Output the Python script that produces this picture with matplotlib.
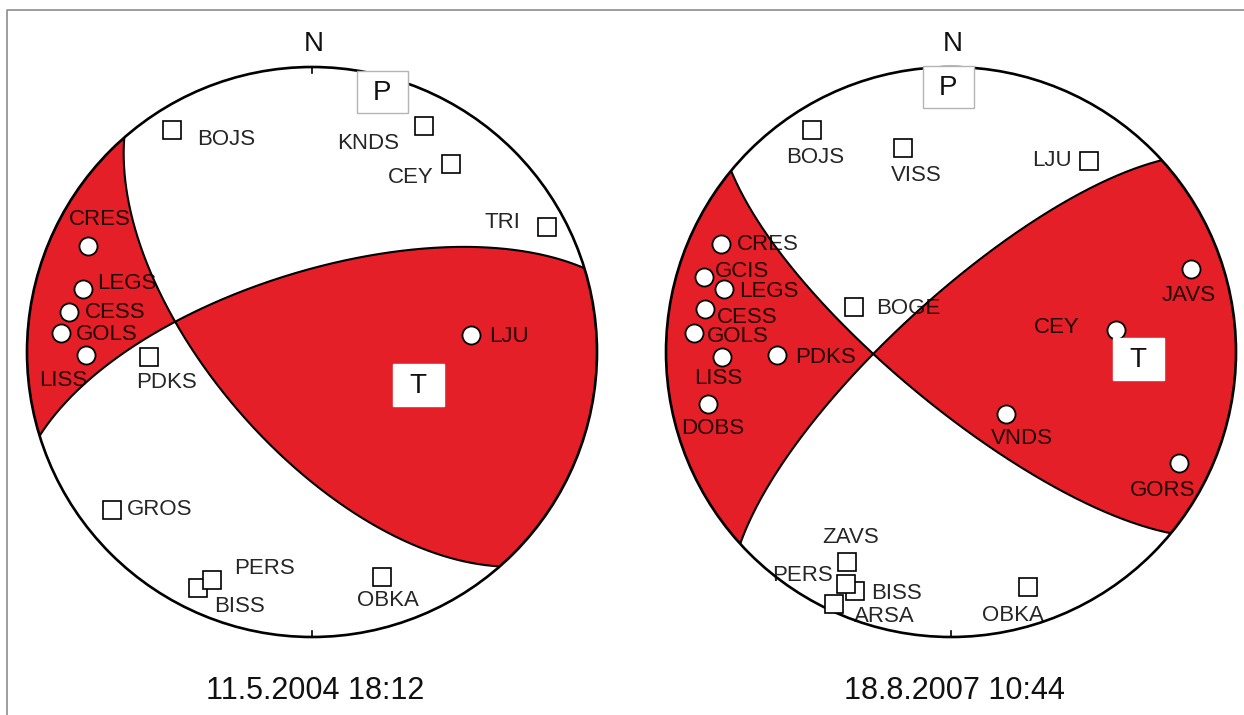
import numpy as np
import matplotlib
matplotlib.use("Agg")
import matplotlib.pyplot as plt
from matplotlib.patches import Circle, Rectangle

# ---------------------------------------------------------------------------
# Focal mechanism data (lower-hemisphere, equal-area projection)
# Station positions: azimuth (deg from N) and projected radius (0..1)
# ---------------------------------------------------------------------------

# Event 1
ev1_date = "11.5.2004 18:12"
ev1_strikes = [138.8, 252.9]
ev1_dips = [63.0, 67.0]
ev1_comp_names = ["CRES", "LEGS", "CESS", "GOLS", "LISS", "LJU"]
ev1_comp_az = [295.3, 285.4, 279.3, 274.3, 269.2, 83.9]
ev1_comp_r = [0.870, 0.833, 0.864, 0.883, 0.793, 0.561]
ev1_dil_names = ["BOJS", "KNDS", "CEY", "TRI", "PDKS", "GROS", "BISS", "PERS", "OBKA"]
ev1_dil_az = [327.8, 26.4, 36.5, 62.0, 268.2, 231.7, 205.8, 203.7, 162.7]
ev1_dil_r = [0.921, 0.885, 0.820, 0.934, 0.572, 0.894, 0.920, 0.874, 0.827]
ev1_p_axis = (15.1, 0.945)
ev1_t_axis = (107.3, 0.390)

# Event 2
ev2_date = "18.8.2007 10:44"
ev2_strikes = [129.5, 227.7]
ev2_dips = [75.0, 75.0]
ev2_comp_names = ["CRES", "GCIS", "LEGS", "CESS", "GOLS", "LISS", "PDKS", "DOBS",
                  "JAVS", "CEY", "VNDS", "GORS"]
ev2_comp_az = [295.2, 286.9, 285.5, 279.9, 274.2, 268.7, 269.0, 257.9,
               70.9, 82.4, 138.4, 116.0]
ev2_comp_r = [0.892, 0.906, 0.827, 0.876, 0.904, 0.804, 0.611, 0.872,
              0.891, 0.584, 0.291, 0.890]
ev2_dil_names = ["BOJS", "VISS", "LJU", "BOGE", "ZAVS", "BISS", "PERS", "ARSA", "OBKA"]
ev2_dil_az = [327.9, 346.8, 35.8, 294.9, 206.3, 201.9, 204.3, 204.9, 161.9]
ev2_dil_r = [0.919, 0.735, 0.827, 0.375, 0.822, 0.904, 0.894, 0.975, 0.868]
ev2_p_axis = (359.4, 0.930)
ev2_t_axis = (92.1, 0.657)

# ---------------------------------------------------------------------------
# Layout (pixels) and label placement
# ---------------------------------------------------------------------------
W, H = 1244, 715
RADIUS = 285.0
centers = [(312.0, 352.0), (951.0, 352.0)]

ev1_label_offsets = {
    "BOJS": (54, -10), "KNDS": (-56, -17), "CEY": (-40, -13), "TRI": (-45, 5),
    "CRES": (12, 27), "LEGS": (44, 5), "CESS": (46, 0), "GOLS": (46, -1),
    "LISS": (-23, -25), "PDKS": (17, -25), "LJU": (38, -1), "GROS": (48, 0),
    "BISS": (42, -18), "PERS": (53, 12), "OBKA": (6, -23),
}
ev2_label_offsets = {
    "BOJS": (3, -27), "VISS": (13, -27), "LJU": (-37, 0), "BOGE": (54, -1),
    "CRES": (47, -1), "GCIS": (38, 5), "LEGS": (45, -2), "CESS": (42, -8),
    "GOLS": (44, -3), "LISS": (-4, -21), "PDKS": (49, -2), "DOBS": (5, -24),
    "JAVS": (-2, -27), "CEY": (-59, 2), "VNDS": (16, -24), "GORS": (-16, -27),
    "ZAVS": (3, 25), "PERS": (-44, 9), "BISS": (42, -2), "ARSA": (50, -12),
    "OBKA": (-15, -28),
}

RED = "#e51f27"
FONT = "Liberation Sans"
plt.rcParams["font.family"] = [FONT, "DejaVu Sans"]


def project(v):
    """Equal-area projection of (east, north, down) unit vectors."""
    e, n, d = v[..., 0], v[..., 1], v[..., 2]
    plunge = np.arcsin(np.clip(d, -1, 1))
    r = np.sqrt(2) * np.sin((np.pi / 2 - plunge) / 2)
    h = np.hypot(e, n)
    h = np.where(h == 0, 1, h)
    return r * e / h, r * n / h


def unproject(x, y):
    r = np.hypot(x, y)
    plunge = np.pi / 2 - 2 * np.arcsin(np.clip(r / np.sqrt(2), 0, 1))
    rr = np.where(r == 0, 1, r)
    c = np.cos(plunge)
    return np.stack([c * x / rr, c * y / rr, np.sin(plunge)], axis=-1)


def plane_normal(strike, dip):
    dd = np.radians(strike + 90.0)
    d = np.radians(dip)
    return np.array([np.sin(d) * np.sin(dd), np.sin(d) * np.cos(dd), -np.cos(d)])


def plane_curve(strike, dip, n=400):
    s = np.radians(strike)
    dd = s + np.pi / 2
    d = np.radians(dip)
    lam = np.linspace(0, np.pi, n)
    sv = np.array([np.sin(s), np.cos(s), 0.0])
    dv = np.array([np.sin(dd) * np.cos(d), np.cos(dd) * np.cos(d), np.sin(d)])
    v = np.outer(np.cos(lam), sv) + np.outer(np.sin(lam), dv)
    return project(v)


def polar_xy(az, r):
    a = np.radians(np.asarray(az, dtype=float))
    r = np.asarray(r, dtype=float)
    return r * np.sin(a), r * np.cos(a)


fig = plt.figure(figsize=(W / 100, H / 100), dpi=100)
ax = fig.add_axes([0, 0, 1, 1])
ax.set_xlim(0, W)
ax.set_ylim(H, 0)
ax.axis("off")

# frame lines
ax.plot([7, 7, W], [H, 10, 10], color="#8e8e8e", lw=1.2, zorder=0)

events = [
    (ev1_date, ev1_strikes, ev1_dips, ev1_comp_names, ev1_comp_az, ev1_comp_r,
     ev1_dil_names, ev1_dil_az, ev1_dil_r, ev1_p_axis, ev1_t_axis, ev1_label_offsets),
    (ev2_date, ev2_strikes, ev2_dips, ev2_comp_names, ev2_comp_az, ev2_comp_r,
     ev2_dil_names, ev2_dil_az, ev2_dil_r, ev2_p_axis, ev2_t_axis, ev2_label_offsets),
]

grid = np.linspace(-1.02, 1.02, 700)
GX, GY = np.meshgrid(grid, grid)
V = unproject(GX, GY)

for (cx, cy), ev in zip(centers, events):
    (date, strikes, dips, cnames, caz, cr, dnames, daz, dr, pax, tax, offs) = ev

    def to_px(x, y):
        return cx + RADIUS * np.asarray(x), cy - RADIUS * np.asarray(y)

    base = Circle((cx, cy), RADIUS, facecolor="white", edgecolor="none", zorder=1)
    ax.add_patch(base)

    # compressional quadrants
    n1 = plane_normal(strikes[0], dips[0])
    n2 = plane_normal(strikes[1], dips[1])
    f = (V @ n1) * (V @ n2)
    px, py = to_px(GX, GY)
    cs = ax.contourf(px, py, f, levels=[0, 10], colors=[RED], zorder=2)
    cs.set_clip_path(base)

    # nodal planes
    for s, d in zip(strikes, dips):
        x, y = plane_curve(s, d)
        ax.plot(*to_px(x, y), color="black", lw=1.5, zorder=3, solid_capstyle="butt")

    # outline and N/S ticks
    ax.add_patch(Circle((cx, cy), RADIUS, facecolor="none", edgecolor="black",
                        lw=1.9, zorder=4))
    ax.plot([cx, cx], [cy - RADIUS, cy - RADIUS + 6], color="black", lw=1.2, zorder=4)
    ax.plot([cx, cx], [cy + RADIUS, cy + RADIUS - 6], color="black", lw=1.2, zorder=4)
    ax.text(cx + 2, cy - RADIUS - 23, "N", fontsize=20, ha="center", va="center",
            color="#111111", zorder=6)
    ax.text(cx + 3, cy + RADIUS + 54, date, fontsize=22, ha="center", va="center",
            color="#111111", zorder=6)

    # stations
    dx, dy = to_px(*polar_xy(daz, dr))
    for name, x, y in zip(dnames, dx, dy):
        ax.plot(x, y, marker="s", ms=13.5, mfc="white", mec="black", mew=1.2,
                zorder=5)
    cxs, cys = to_px(*polar_xy(caz, cr))
    ax.plot(cxs, cys, ls="none", marker="o", ms=13, mfc="white", mec="black",
            mew=1.3, zorder=5)

    for names, xs, ys in ((dnames, dx, dy), (cnames, cxs, cys)):
        for name, x, y in zip(names, xs, ys):
            ox, oy = offs[name]
            ax.text(x + ox, y - oy, name, fontsize=16, ha="center", va="center",
                    color="black", alpha=0.85, zorder=6)

    # P and T axes
    for (az, r), lab, ec in ((pax, "P", "#b4b4b4"), (tax, "T", "white")):
        x, y = to_px(*polar_xy(az, r))
        ax.add_patch(Rectangle((x - 25.5, y - 21), 51, 42, facecolor="white",
                               edgecolor=ec, lw=1.0, zorder=7))
        ax.text(x, y + 1, lab, fontsize=20, ha="center", va="center",
                color="#111111", zorder=8)

fig.savefig("out.png", dpi=100, facecolor="white")
